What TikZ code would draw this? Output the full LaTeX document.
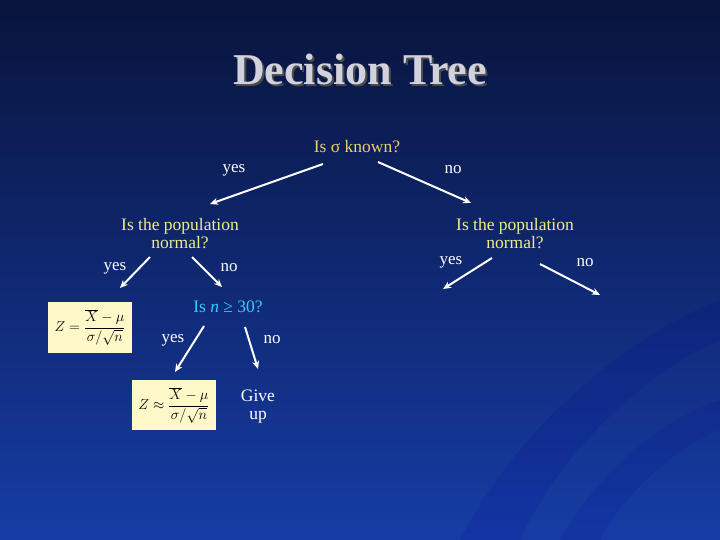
\documentclass[tikz,border=0pt]{standalone}
\usepackage{amsmath}
\usepackage{fontspec}
\setmainfont{Liberation Serif}
\usetikzlibrary{arrows.meta}
\definecolor{gold}{HTML}{E8D070}
\definecolor{pale}{HTML}{EEEE88}
\definecolor{cyanq}{HTML}{33CCFF}
\definecolor{boxy}{HTML}{FFF8C8}
\tikzset{
 lbl/.style={text=white,font=\fontsize{17}{19}\selectfont},
 q/.style={font=\fontsize{17.5}{18}\selectfont,align=center,inner sep=0pt},
 arr/.style={white,line width=2pt,-{Stealth[length=8pt,width=7pt]}},
 fbox/.style={fill=boxy,inner sep=2pt,font=\fontsize{14}{16}\selectfont}
}
\begin{document}
\begin{tikzpicture}[x=1pt,y=-1pt]
\useasboundingbox (0,0) rectangle (720,540);
\shade[top color={rgb,255:red,8;green,20;blue,60}, bottom color={rgb,255:red,22;green,60;blue,165}] (0,0) rectangle (720,540);
\fill[blue!60!black,opacity=0.12] (460,540) .. controls (520,420) and (640,330) .. (720,300) -- (720,340) .. controls (650,370) and (560,450) .. (520,540) -- cycle;
\fill[blue!60!black,opacity=0.1] (560,540) .. controls (600,470) and (660,420) .. (720,400) -- (720,430) .. controls (670,450) and (620,500) .. (600,540) -- cycle;
\node[text=black!70,font=\fontsize{44}{48}\selectfont\bfseries] at (362,71) {Decision Tree};
\node (title) [text={rgb,255:red,210;green,210;blue,220},font=\fontsize{44}{48}\selectfont\bfseries] at (360,69) {Decision Tree};
\node (root) [q,text=gold] at (357,147) {Is σ known?};
\node (yes1) [lbl] at (234,170) {yes};
\node (no1) [lbl] at (453,170) {no};
\node (popL) [q,text=pale] at (180,234) {Is the population\\normal?};
\node (popR) [q,text=pale] at (515,234) {Is the population\\normal?};
\node (yes2) [lbl] at (115,268) {yes};
\node (no2) [lbl] at (229,268) {no};
\node (yes3) [lbl] at (451,262) {yes};
\node (no3) [lbl] at (585,263) {no};
\node (nq) [q,text=cyanq] at (228,307) {Is \textit{n} ≥ 30?};
\node (z1) [fbox,minimum width=84pt,minimum height=51pt] at (90,327) {$Z=\dfrac{\overline{X}-\mu}{\sigma/\sqrt{n}}$};
\node (yes4) [lbl] at (173,340) {yes};
\node (no4) [lbl] at (272,340) {no};
\node (z2) [fbox,minimum width=84pt,minimum height=50pt] at (174,405) {$Z\approx\dfrac{\overline{X}-\mu}{\sigma/\sqrt{n}}$};
\node (give) [q,text=white] at (258,407) {Give\\up};
\coordinate (a1s) at (323,164); \coordinate (a1e) at (210,204);
\coordinate (a2s) at (378,162); \coordinate (a2e) at (471,203);
\coordinate (a3s) at (150,257); \coordinate (a3e) at (120,288);
\coordinate (a4s) at (192,257); \coordinate (a4e) at (222,287);
\coordinate (a5s) at (204,326); \coordinate (a5e) at (175,372);
\coordinate (a6s) at (245,327); \coordinate (a6e) at (258,369);
\coordinate (a7s) at (492,258); \coordinate (a7e) at (443,289);
\coordinate (a8s) at (540,264); \coordinate (a8e) at (600,295);
\foreach \i in {1,...,8} \draw[arr] (a\i s) -- (a\i e);
\end{tikzpicture}
\end{document}
